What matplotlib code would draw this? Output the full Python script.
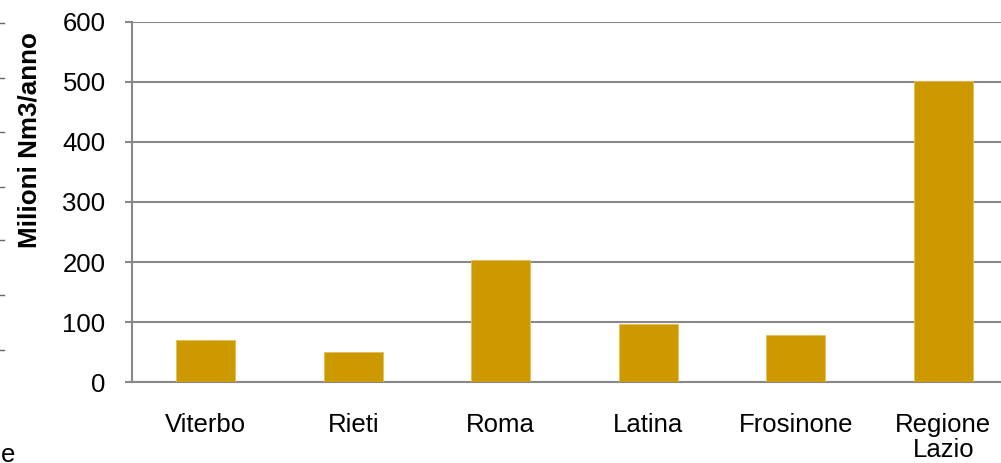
import numpy as np
import matplotlib.pyplot as plt
from matplotlib.lines import Line2D

plt.rcParams['font.family'] = ['Liberation Sans', 'DejaVu Sans']

# Gas consumption by province (million Nm3 per year)
provinces = ["Viterbo", "Rieti", "Roma", "Latina", "Frosinone", "Regione\nLazio"]
consumption = [70, 50, 203, 97, 78, 501]
y_ticks = [0, 100, 200, 300, 400, 500, 600]

bar_color = "#CC9900"
grid_color = "#888888"

fig = plt.figure(figsize=(10.01, 4.63), dpi=100)
ax = fig.add_axes([132 / 1001, 1 - 382 / 463, 885 / 1001, 360 / 463])

x = np.arange(len(provinces))
ax.bar(x, consumption, width=0.4, color=bar_color, edgecolor="#E3BE55",
       linewidth=0.6, zorder=3)

ax.set_xlim(-0.5, len(provinces) - 0.5)
ax.set_ylim(0, 600)
ax.set_yticks(y_ticks)
ax.set_xticks(x)
ax.set_xticklabels(provinces, fontsize=18.5, linespacing=1.05)

ax.yaxis.grid(True, color=grid_color, linewidth=1.5, zorder=0)
ax.set_axisbelow(True)
for side in ["top", "right"]:
    ax.spines[side].set_visible(False)
for side in ["left", "bottom"]:
    ax.spines[side].set_color(grid_color)
    ax.spines[side].set_linewidth(1.5)

ax.tick_params(axis="y", labelsize=18.5, length=5, width=1.5, color=grid_color, pad=14)
ax.tick_params(axis="x", length=0, pad=22)

# axis title sits above the axis midpoint
ax.set_ylabel("Milioni Nm3/anno", fontsize=18.7, fontweight="bold")
ax.yaxis.set_label_coords(-0.102, 0.672)

# fragment of the neighbouring chart on the left edge
for yp in [23, 78, 132, 187, 240, 295, 350]:
    fig.add_artist(Line2D([0, 4 / 1001], [1 - yp / 463] * 2, color="#666666", linewidth=1))
fig.text(1 / 1001, 1 - 455 / 463, "e", fontsize=18.5, va="center", ha="left")

fig.savefig("out.png", dpi=100)
